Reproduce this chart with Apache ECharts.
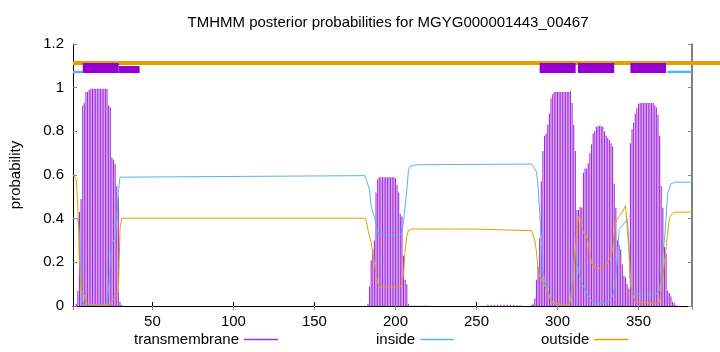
<!DOCTYPE html>
<html>
<head>
<meta charset="UTF-8">
<script src="https://cdn.jsdelivr.net/npm/echarts@6/dist/echarts.min.js"></script>
<style>
html, body { margin: 0; padding: 0; background: #fff; }
#chart { width: 720px; height: 352px; }
</style>
</head>
<body>
<div id="chart"></div>
<script>
// residue range
var xMin = 1, xMax = 383;
// the top "outside" bar runs past the right border up to here
var xMaxWide = 400.3;

// transmembrane posterior, [residue, probability] for the non-zero residues
var tmProb = [
    [3, 0.01], [4, 0.07], [5, 0.43], [6, 0.49], [7, 0.92], [8, 0.93], [9, 0.98], [10, 0.98],
    [11, 0.99], [12, 0.995], [13, 0.995], [14, 0.995], [15, 0.995], [16, 0.995], [17, 0.995],
    [18, 0.995], [19, 0.995], [20, 0.995], [21, 0.995], [22, 0.995], [23, 0.92], [24, 0.91],
    [25, 0.68], [26, 0.67], [27, 0.65], [28, 0.55], [29, 0.50], [30, 0.02], [31, 0.005],
    [183, 0.01], [184, 0.09], [185, 0.21], [186, 0.26], [187, 0.30], [188, 0.52], [189, 0.58],
    [190, 0.59], [191, 0.59], [192, 0.59], [193, 0.59], [194, 0.59], [195, 0.59], [196, 0.59],
    [197, 0.59], [198, 0.59], [199, 0.59], [200, 0.585], [201, 0.555], [202, 0.52], [203, 0.42],
    [204, 0.41], [205, 0.23], [206, 0.12], [207, 0.10], [208, 0.01],
    [210, 0.002], [212, 0.002], [214, 0.002], [216, 0.002], [218, 0.002], [220, 0.002],
    [257, 0.006], [259, 0.006], [261, 0.006], [263, 0.007], [265, 0.007], [267, 0.007],
    [269, 0.007], [271, 0.006], [273, 0.006], [275, 0.005], [277, 0.004],
    [284, 0.005], [285, 0.01], [286, 0.035], [287, 0.12], [288, 0.18], [289, 0.31], [290, 0.57],
    [291, 0.71], [292, 0.78], [293, 0.79], [294, 0.83], [295, 0.88], [296, 0.95], [297, 0.97],
    [298, 0.98], [299, 0.98], [300, 0.98], [301, 0.98], [302, 0.98], [303, 0.98], [304, 0.98],
    [305, 0.98], [306, 0.98], [307, 0.98], [308, 0.986], [309, 0.93], [310, 0.83], [311, 0.71],
    [312, 0.44], [313, 0.44], [314, 0.455], [315, 0.45], [316, 0.61], [317, 0.63], [318, 0.63],
    [319, 0.654], [320, 0.70], [321, 0.74], [322, 0.79], [323, 0.80], [324, 0.82], [325, 0.825],
    [326, 0.825], [327, 0.825], [328, 0.82], [329, 0.80], [330, 0.78], [331, 0.77], [332, 0.76],
    [333, 0.745], [334, 0.73], [335, 0.56], [336, 0.45], [337, 0.30], [338, 0.28], [339, 0.26],
    [340, 0.19], [341, 0.14], [342, 0.13], [343, 0.10], [344, 0.08],
    [345, 0.745], [346, 0.81], [347, 0.84], [348, 0.88], [349, 0.906], [350, 0.926], [351, 0.93],
    [352, 0.93], [353, 0.93], [354, 0.93], [355, 0.93], [356, 0.93], [357, 0.93], [358, 0.93],
    [359, 0.93], [360, 0.92], [361, 0.91], [362, 0.876], [363, 0.78], [364, 0.55], [365, 0.45],
    [366, 0.27], [367, 0.24], [368, 0.07], [369, 0.058], [370, 0.045], [371, 0.02], [372, 0.015],
    [373, 0.005]
];

// inside posterior (points where the curve bends)
var insideProb = [
    [1, 0.40], [4, 0.40], [5, 0.33], [6, 0.10], [7, 0.02], [8, 0.005], [21, 0.005], [22, 0.02],
    [23, 0.08], [24, 0.20], [25, 0.28], [26, 0.30], [27, 0.31], [28, 0.40], [29, 0.52], [30, 0.59],
    [31, 0.596], [181, 0.597], [182, 0.58], [184, 0.53], [185, 0.455], [187, 0.41], [189, 0.34],
    [190, 0.325], [203, 0.325], [204, 0.34], [205, 0.39], [207, 0.53], [208, 0.62], [209, 0.64],
    [213, 0.647], [284, 0.65], [285, 0.64], [287, 0.615], [288, 0.55], [289, 0.43], [290, 0.30],
    [291, 0.18], [292, 0.11], [294, 0.073], [296, 0.027], [298, 0.009], [307, 0.005], [308, 0.03],
    [309, 0.104], [310, 0.20], [311, 0.257], [312, 0.20], [314, 0.127], [317, 0.073], [320, 0.035],
    [323, 0.009], [328, 0.01], [331, 0.02], [334, 0.043], [335, 0.08], [336, 0.134], [337, 0.226],
    [338, 0.349], [339, 0.36], [340, 0.355], [342, 0.387], [343, 0.40], [344, 0.30], [345, 0.104],
    [346, 0.073], [348, 0.055], [361, 0.055], [363, 0.073], [364, 0.15], [365, 0.24], [366, 0.30],
    [367, 0.40], [368, 0.516], [370, 0.56], [373, 0.567], [383, 0.567]
];

// outside posterior
var outsideProb = [
    [1, 0.60], [3, 0.58], [4, 0.45], [5, 0.20], [6, 0.07], [7, 0.06], [8, 0.05], [9, 0.01],
    [10, 0.003], [22, 0.003], [24, 0.01], [26, 0.03], [28, 0.05], [29, 0.06], [30, 0.35],
    [31, 0.402], [181, 0.402], [182, 0.39], [183, 0.35], [185, 0.29], [187, 0.197], [189, 0.105],
    [190, 0.087], [203, 0.087], [204, 0.10], [205, 0.15], [206, 0.257], [207, 0.32], [208, 0.345],
    [210, 0.353], [250, 0.352], [284, 0.345], [285, 0.34], [286, 0.30], [287, 0.25], [288, 0.16],
    [289, 0.134], [291, 0.11], [293, 0.08], [295, 0.043], [297, 0.012], [307, 0.005], [308, 0.02],
    [309, 0.058], [310, 0.15], [311, 0.257], [312, 0.35], [313, 0.41], [314, 0.40], [316, 0.333],
    [318, 0.32], [319, 0.29], [321, 0.196], [323, 0.173], [327, 0.173], [330, 0.188], [333, 0.226],
    [334, 0.26], [335, 0.333], [336, 0.387], [338, 0.41], [340, 0.43], [342, 0.46], [343, 0.455],
    [344, 0.257], [345, 0.10], [346, 0.058], [348, 0.02], [361, 0.01], [363, 0.02], [364, 0.08],
    [365, 0.134], [367, 0.27], [369, 0.402], [371, 0.425], [373, 0.43], [383, 0.43]
];

// predicted topology segments drawn above the curves
var tmSegments = [[7, 29.2], [289, 311.2], [312.6, 335], [345, 367]];
var tmExtraSegments = [[29.2, 42.1]];
var insideSegments = [[1, 7], [367.8, 383]];
var outsideSegments = [[1, xMaxWide]];

var purple = '#9400d3', blue = '#56b4e9', orange = '#e69f00';
var font = 'Liberation Sans, Arial, sans-serif';

function segmentSeries(segs, y, color, width, name, axis) {
    return segs.map(function (s) {
        return {
            name: name, type: 'line', symbol: 'none', clip: false, silent: true,
            xAxisIndex: axis, yAxisIndex: axis,
            data: [[s[0], y], [s[1], y]],
            lineStyle: { color: color, width: width, cap: 'butt' },
            z: 5
        };
    });
}

var legendText = { fontFamily: font, fontSize: 15, color: '#000' };
function legendAt(name, left) {
    return {
        data: [name], left: left, top: 332, align: 'right', padding: 0,
        icon: 'rect', itemWidth: 34, itemHeight: 1.5, selectedMode: false,
        textStyle: legendText
    };
}

var axisText = { fontFamily: font, fontSize: 15, color: '#000' };

var option = {
    animation: false,
    backgroundColor: '#fff',
    title: {
        text: 'TMHMM posterior probabilities for MGYG000001443_00467',
        left: 383, top: 10, textAlign: 'center',
        textStyle: { fontFamily: font, fontSize: 15, fontWeight: 'normal', color: '#000' }
    },
    legend: [
        legendAt('transmembrane', 134),
        legendAt('inside', 376),
        legendAt('outside', 541)
    ],
    grid: [
        { left: 73, right: 28, top: 44, bottom: 46 },
        // same scale, wider, only for the top outside bar
        { left: 73, right: 0, top: 44, bottom: 46 }
    ],
    xAxis: [{
        type: 'value', min: xMin, max: xMax, splitNumber: 8,
        axisLine: { lineStyle: { color: '#000' } },
        axisTick: { inside: true, length: 4, lineStyle: { color: '#000' } },
        axisLabel: Object.assign({ margin: 8, showMinLabel: false, showMaxLabel: false }, axisText),
        splitLine: { show: false }
    }, {
        type: 'value', gridIndex: 1, min: xMin, max: xMaxWide, show: false
    }, {
        type: 'value', position: 'top', min: xMin, max: xMax, splitNumber: 8,
        axisLine: { lineStyle: { color: '#000' } },
        axisTick: { inside: true, length: 4, lineStyle: { color: '#888' } },
        axisLabel: { show: false },
        splitLine: { show: false }
    }],
    yAxis: [{
        type: 'value', min: 0, max: 1.2, interval: 0.2,
        name: 'probability', nameLocation: 'middle', nameGap: 50, nameRotate: 90,
        nameTextStyle: { fontFamily: font, fontSize: 15, color: '#000' },
        axisLine: { lineStyle: { color: '#000' } },
        axisTick: { inside: true, length: 4, lineStyle: { color: '#888' } },
        axisLabel: Object.assign({ margin: 9 }, axisText),
        splitLine: { show: false }
    }, {
        type: 'value', gridIndex: 1, min: 0, max: 1.2, show: false
    }, {
        type: 'value', position: 'right', min: 0, max: 1.2, interval: 0.2,
        axisLine: { show: true, lineStyle: { color: '#555', width: 1.5 } },
        axisTick: { inside: true, length: 4, lineStyle: { color: '#888' } },
        axisLabel: { show: false },
        splitLine: { show: false }
    }],
    series: [{
        name: 'transmembrane', type: 'bar', data: tmProb, barWidth: 1.1,
        itemStyle: { color: '#a02ddc' }, silent: true, z: 2
    }, {
        name: 'inside', type: 'line', data: insideProb, symbol: 'none',
        itemStyle: { color: blue }, lineStyle: { color: blue, width: 1 }, z: 3
    }, {
        name: 'outside', type: 'line', data: outsideProb, symbol: 'none',
        itemStyle: { color: orange }, lineStyle: { color: orange, width: 1 }, z: 3
    }]
    .concat(segmentSeries(outsideSegments, 1.113, orange, 4, 'outsideTop', 1))
    .concat(segmentSeries(insideSegments, 1.072, blue, 2.5, 'insideTop', 0))
    .concat(segmentSeries(tmExtraSegments, 1.083, purple, 7, 'tmTop2', 0))
    .concat(segmentSeries(tmSegments, 1.090, purple, 10, 'tmTop', 0))
};

var myChart = echarts.init(document.getElementById('chart'));
myChart.setOption(option);
</script>
</body>
</html>
